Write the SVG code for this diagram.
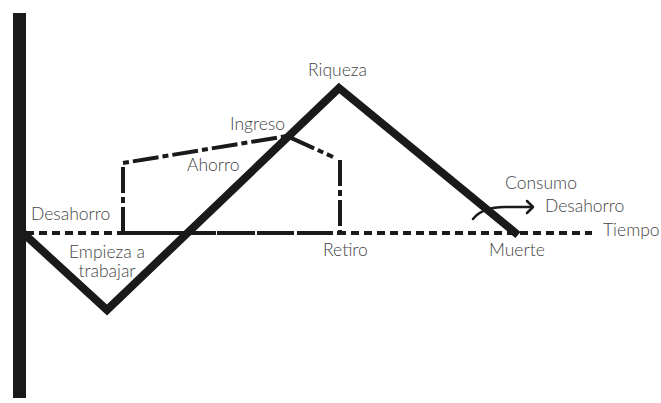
<svg xmlns="http://www.w3.org/2000/svg" width="661" height="403" viewBox="0 0 661 403">
<style>
text{font-family:Lato,"Open Sans","Liberation Sans",sans-serif;font-size:17.5px;font-weight:300;fill:#444}
.axis{fill:#1a1a1a}
.wealth{fill:none;stroke:#1a1a1a;stroke-width:8;stroke-linejoin:miter}
.time{fill:none;stroke:#1a1a1a;stroke-width:4;stroke-dasharray:8 5}
.save{fill:none;stroke:#1a1a1a;stroke-width:4;stroke-dasharray:26 4 6 4}
.arrow{fill:none;stroke:#1a1a1a;stroke-width:2.5;stroke-linecap:round;stroke-linejoin:round}
</style>
<rect class="axis" x="13" y="13" width="13" height="385"/>
<g id="connectors">
<path class="time" d="M26 233H592"/>
<path class="save" d="M123 233V163L287 136L333 157"/>
<path class="save" d="M340 160V233H123"/>
<path class="wealth" d="M22 232L107 310L339 88L518 235"/>
<path class="arrow" d="M473 219C480 210 490 207 505 207L532 207"/>
<path class="arrow" d="M527 201L533 207L527 213"/>
</g>
<g id="labels">
<text x="107" y="258" text-anchor="middle">Empieza a</text>
<text x="107" y="277" text-anchor="middle">trabajar</text>
<text x="308" y="76">Riqueza</text>
<text x="230" y="130">Ingreso</text>
<text x="187" y="171">Ahorro</text>
<text x="31" y="220">Desahorro</text>
<text x="323" y="256">Retiro</text>
<text x="489" y="256">Muerte</text>
<text x="603" y="236">Tiempo</text>
<text x="505" y="189">Consumo</text>
<text x="545" y="212">Desahorro</text>
</g>
</svg>
